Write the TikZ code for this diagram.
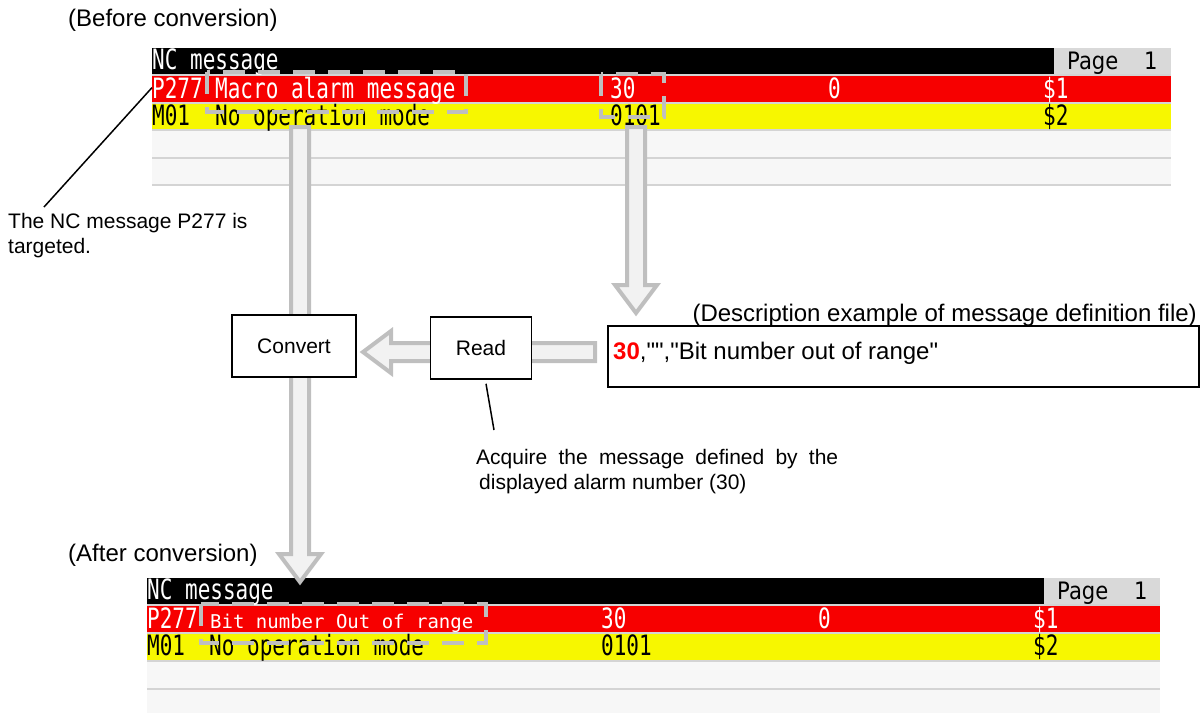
\documentclass[tikz,border=0pt]{standalone}
\usepackage{fontspec}
\setmainfont{Liberation Sans}
\newfontfamily\qfont{Liberation Sans}
\newfontfamily\scrfont[FakeStretch=0.75]{DejaVu Sans Mono}
\newfontfamily\msgfont{DejaVu Sans Mono}
\newfontfamily\pagefont[FakeStretch=0.88]{DejaVu Sans}
\usetikzlibrary{calc}
\definecolor{alarmred}{HTML}{F70000}
\definecolor{opyellow}{HTML}{F7F700}
\definecolor{rowgray}{HTML}{F7F7F7}
\definecolor{sepgray}{HTML}{D4D4D4}
\definecolor{pagegray}{HTML}{D9D9D9}
\definecolor{arrline}{HTML}{BFBFBF}
\definecolor{arrfill}{HTML}{F2F2F2}
\tikzset{
  scr/.style={anchor=base west, inner sep=0pt, font=\scrfont\fontsize{28}{28}\selectfont},
  scrw/.style={scr, text=white},
  pg/.style={anchor=base west, inner sep=0pt, font=\pagefont\fontsize{24}{24}\selectfont},
  headtext/.style={inner sep=0pt, font=\fontsize{24}{28}\selectfont},
  notetext/.style={inner sep=0pt, font=\fontsize{21}{25}\selectfont},
  flowbox/.style={draw, line width=1.5pt, fill=white, font=\fontsize{21}{25}\selectfont},
  dashbox/.style={draw=arrline, line width=4pt, dash pattern=on 22pt off 13pt},
  leader/.style={line width=1.5pt},
  hollow/.style={draw=arrline, fill=arrfill, line width=4pt, line join=miter,
    to path={
      ($(\tikztostart)!9pt!90:(\tikztotarget)$)
      -- ($($(\tikztotarget)!28pt!(\tikztostart)$)!9pt!-90:(\tikztostart)$)
      -- ($($(\tikztotarget)!28pt!(\tikztostart)$)!21pt!-90:(\tikztostart)$)
      -- (\tikztotarget)
      -- ($($(\tikztotarget)!28pt!(\tikztostart)$)!21pt!90:(\tikztostart)$)
      -- ($($(\tikztotarget)!28pt!(\tikztostart)$)!9pt!90:(\tikztostart)$)
      -- ($(\tikztostart)!9pt!-90:(\tikztotarget)$)
      -- cycle}}
}
\begin{document}
\begin{tikzpicture}[x=1pt,y=-1pt]
\useasboundingbox (0,0) rectangle (1204,713);

\node[headtext, anchor=base west] (beforelbl) at (68,26) {(Before conversion)};

\fill[sepgray] (152,74) rectangle (1171,186);
\fill (152,48) rectangle (1054,74);
\fill[pagegray] (1054,48) rectangle (1171,74);
\fill[alarmred] (152,76) rectangle (1171,102);
\fill[opyellow] (152,104) rectangle (1171,129);
\fill[rowgray] (152,131) rectangle (1171,157);
\fill[rowgray] (152,159) rectangle (1171,184);
\node[scrw] (nchead1) at (152,69) {NC message};
\node[pg] (page1) at (1067,69) {Page};
\node[pg] (pgnum1) at (1144,69) {1};
\node[scrw] (p277a) at (152,98) {P277};
\node[scrw] (msga) at (215,98) {Macro alarm message};
\node[scrw] (numa) at (610,98) {30};
\node[scrw] (zeroa) at (828,98) {0};
\node[scrw] (sysa) at (1043,98) {\$1};
\node[scr] (m01a) at (152,125) {M01};
\node[scr] (opa) at (215,125) {No operation mode};
\node[scr] (bitsa) at (610,125) {0101};
\node[scr] (sysb) at (1043,125) {\$2};
\draw[dashbox] (207,72) rectangle (466,112);
\draw[dashbox] (601,74) rectangle (664,117);

\node[headtext, anchor=base west] (afterlbl) at (68,561) {(After conversion)};

\fill[sepgray] (147,604) rectangle (1160,713);
\fill (147,578) rectangle (1044,604);
\fill[pagegray] (1044,578) rectangle (1160,604);
\fill[alarmred] (147,606) rectangle (1160,632);
\fill[opyellow] (147,634) rectangle (1160,660);
\fill[rowgray] (147,662) rectangle (1160,688);
\fill[rowgray] (147,690) rectangle (1160,713);
\node[scrw] (nchead2) at (147,599) {NC message};
\node[pg] (page2) at (1057,599) {Page};
\node[pg] (pgnum2) at (1134,599) {1};
\node[scrw] (p277b) at (147,628) {P277};
\node[scrw, font=\msgfont\fontsize{19}{19}\selectfont] (msgb) at (210,628) {Bit number Out of range};
\node[scrw] (numb) at (601,628) {30};
\node[scrw] (zerob) at (818,628) {0};
\node[scrw] (sysc) at (1033,628) {\$1};
\node[scr] (m01b) at (147,655) {M01};
\node[scr] (opb) at (209,655) {No operation mode};
\node[scr] (bitsb) at (601,655) {0101};
\node[scr] (sysd) at (1033,655) {\$2};
\draw[dashbox] (201,604) rectangle (486,643);

\coordinate (lvtop) at (300,127);
\coordinate (lvtip) at (300,582);
\coordinate (rvtop) at (636,127);
\coordinate (rvtip) at (636,313);
\coordinate (hstart) at (595,352);
\coordinate (htip) at (363,352);
\draw[hollow] (lvtop) to (lvtip);
\draw[hollow] (rvtop) to (rvtip);
\draw[hollow] (hstart) to (htip);

\node[flowbox, minimum width=124pt, minimum height=62pt] (convert) at (294,346) {Convert};
\node[flowbox, minimum width=101pt, minimum height=62pt] (read) at (481,348) {Read};

\node[headtext, anchor=base east] (desclbl) at (1197,321) {(Description example of message definition file)};
\node[draw, line width=1.5pt, minimum width=591pt, minimum height=61pt] (filebox) at (903.5,356.5) {};
\node[headtext, anchor=base west, font=\qfont\fontsize{24}{28}\selectfont] (filetext) at (613,359) {\textbf{\textcolor{red}{30}},"","Bit number out of range"};

\node[notetext, anchor=north west, align=left] (ncnote) at (8,213) {The NC message P277 is\\targeted.};
\coordinate (ncfoot) at (44,207);
\draw[leader] (ncfoot) -- (p277a.west);

\node[notetext, anchor=north west, text width=362pt, align=justify] (acqnote) at (476,449) {Acquire the message defined by the\linebreak\hspace*{3pt}displayed alarm number (30)};
\coordinate (acqtop) at (494,430);
\draw[leader] ([xshift=5pt,yshift=-4pt]read.south) -- (acqtop);
\end{tikzpicture}
\end{document}
